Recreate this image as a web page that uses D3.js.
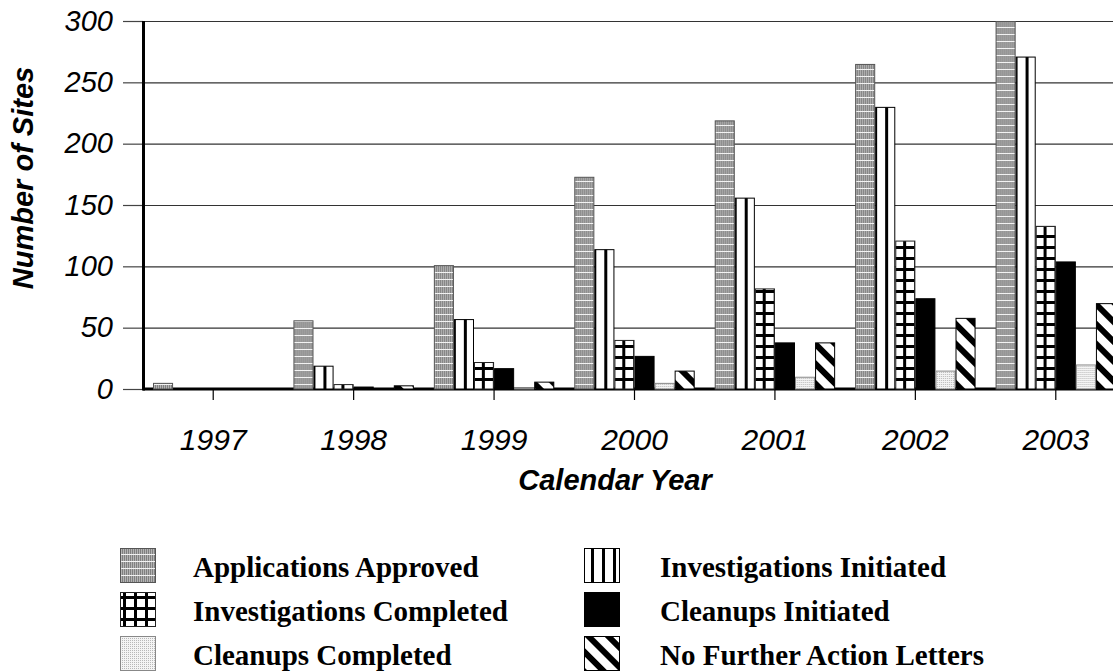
<!DOCTYPE html>
<html>
<head>
<meta charset="utf-8">
<script src="https://cdn.jsdelivr.net/npm/d3@7"></script>
<style>
  body { margin: 0; background: #fff; }
  svg { display: block; }
</style>
</head>
<body>
<svg id="chart" width="1113" height="672"></svg>
<script>
(function() {

    // data
    var years = ["1997", "1998", "1999", "2000", "2001", "2002", "2003"];
    var seriesNames = ["Applications Approved", "Investigations Initiated", "Investigations Completed",
                       "Cleanups Initiated", "Cleanups Completed", "No Further Action Letters"];
    var applicationsApproved    = [5, 56, 101, 173, 219, 265, 300];
    var investigationsInitiated = [0, 19, 57, 114, 156, 230, 271];
    var investigationsCompleted = [0, 4, 22, 40, 82, 121, 133];
    var cleanupsInitiated       = [0, 2, 17, 27, 38, 74, 104];
    var cleanupsCompleted       = [0, 0, 1, 5, 10, 15, 20];
    var noFurtherAction         = [0, 3, 6, 15, 38, 58, 70];
    var yTicks = [0, 50, 100, 150, 200, 250, 300];

    var seriesValues = [applicationsApproved, investigationsInitiated, investigationsCompleted,
                        cleanupsInitiated, cleanupsCompleted, noFurtherAction];
    var fills = ["url(#pApps)", "url(#pInvInit)", "url(#pInvComp)", "#000", "url(#pCleanComp)", "url(#pNfa)"];
    var strokes = ["#555", "#000", "#222", "#000", "#888", "#000"];

    var svg = d3.select("#chart"),
        width = +svg.attr("width"),
        left = 143, top = 21, bottom = 389;

    var x0 = d3.scaleBand().domain(years).range([143, 1126]);
    var x1 = d3.scaleBand().domain(seriesNames).range([10, x0.bandwidth() - 10]);
    var y = d3.scaleLinear().domain([0, 300]).range([bottom, top]);

    // patterns
    var defs = svg.append("defs");

    var pa = defs.append("pattern").attr("id", "pApps").attr("patternUnits", "userSpaceOnUse")
        .attr("width", 2).attr("height", 7);
    pa.append("rect").attr("width", 2).attr("height", 7).attr("fill", "#b4b4b4");
    pa.append("rect").attr("width", 1).attr("height", 7).attr("fill", "#808080");
    pa.append("rect").attr("y", 6).attr("width", 2).attr("height", 1).attr("fill", "#f2f2f2");

    var pi = defs.append("pattern").attr("id", "pInvInit").attr("patternUnits", "userSpaceOnUse")
        .attr("width", 11).attr("height", 10);
    pi.append("rect").attr("width", 11).attr("height", 10).attr("fill", "#fff");
    pi.append("rect").attr("x", 7).attr("width", 3).attr("height", 10).attr("fill", "#000");

    var pc = defs.append("pattern").attr("id", "pInvComp").attr("patternUnits", "userSpaceOnUse")
        .attr("width", 11).attr("height", 11);
    pc.append("rect").attr("width", 11).attr("height", 11).attr("fill", "#fff");
    pc.append("rect").attr("x", 3).attr("width", 3).attr("height", 11).attr("fill", "#000");
    pc.append("rect").attr("y", 4).attr("width", 11).attr("height", 3).attr("fill", "#000");

    var pl = defs.append("pattern").attr("id", "pCleanComp").attr("patternUnits", "userSpaceOnUse")
        .attr("width", 2).attr("height", 2);
    pl.append("rect").attr("width", 2).attr("height", 2).attr("fill", "#f4f4f4");
    pl.append("rect").attr("width", 1).attr("height", 1).attr("fill", "#b8b8b8");

    var pn = defs.append("pattern").attr("id", "pNfa").attr("patternUnits", "userSpaceOnUse")
        .attr("width", 14).attr("height", 14).attr("patternTransform", "rotate(-45)");
    pn.append("rect").attr("width", 14).attr("height", 14).attr("fill", "#fff");
    pn.append("rect").attr("width", 6).attr("height", 14).attr("fill", "#000");

    // gridlines
    svg.append("g").selectAll("line").data(yTicks.filter(function(d) { return d > 0; }))
        .enter().append("line")
        .attr("x1", left).attr("x2", width)
        .attr("y1", function(d) { return y(d) + 0.5; })
        .attr("y2", function(d) { return y(d) + 0.5; })
        .attr("stroke", "#333").attr("stroke-width", 1.2);

    // thick baseline behind the bars
    svg.append("line")
        .attr("x1", left).attr("x2", width)
        .attr("y1", y(0)).attr("y2", y(0))
        .attr("stroke", "#000").attr("stroke-width", 3);

    // bars
    var groups = svg.append("g").selectAll("g").data(years).enter().append("g")
        .attr("transform", function(d) { return "translate(" + x0(d) + ",0)"; });

    groups.selectAll("rect")
        .data(function(d, i) {
            return seriesNames.map(function(s, k) { return { s: s, k: k, v: seriesValues[k][i] }; });
        })
        .enter().filter(function(d) { return d.v > 0; }).append("rect")
        .attr("x", function(d) { return x1(d.s) + 0.5; })
        .attr("y", function(d) { return y(d.v) + 0.5; })
        .attr("width", x1.bandwidth() - 1)
        .attr("height", function(d) { return y(0) - y(d.v) - 0.5; })
        .attr("fill", function(d) { return fills[d.k]; })
        .attr("stroke", function(d) { return strokes[d.k]; })
        .attr("stroke-width", 1);

    // y axis
    var yAxis = svg.append("g")
        .attr("transform", "translate(" + left + ",0)")
        .call(d3.axisLeft(y).tickValues(yTicks).tickSize(20).tickPadding(10));
    yAxis.select(".domain").remove();
    yAxis.selectAll(".tick line").attr("stroke", "#444").attr("stroke-width", 1.2);
    yAxis.selectAll(".tick text")
        .attr("font-family", "'Liberation Sans', Arial, sans-serif")
        .attr("font-style", "italic")
        .attr("font-size", 29)
        .attr("fill", "#000");

    svg.append("line")
        .attr("x1", left + 0.5).attr("x2", left + 0.5)
        .attr("y1", top).attr("y2", bottom + 1.5)
        .attr("stroke", "#000").attr("stroke-width", 3);

    // x axis
    var xAxis = svg.append("g")
        .attr("transform", "translate(0," + (bottom + 1) + ")")
        .call(d3.axisBottom(x0).tickSize(10).tickPadding(29));
    xAxis.select(".domain").remove();
    xAxis.selectAll(".tick line").attr("stroke", "#000").attr("stroke-width", 1.2);
    xAxis.selectAll(".tick text")
        .attr("font-family", "'Liberation Sans', Arial, sans-serif")
        .attr("font-style", "italic")
        .attr("font-size", 30)
        .attr("fill", "#000");

    // axis titles
    svg.append("text")
        .attr("x", 615).attr("y", 490)
        .attr("text-anchor", "middle")
        .attr("font-family", "'Liberation Sans', Arial, sans-serif")
        .attr("font-style", "italic").attr("font-weight", "bold")
        .attr("font-size", 29)
        .text("Calendar Year");

    svg.append("text")
        .attr("transform", "translate(33,178) rotate(-90)")
        .attr("text-anchor", "middle")
        .attr("font-family", "'Liberation Sans', Arial, sans-serif")
        .attr("font-style", "italic").attr("font-weight", "bold")
        .attr("font-size", 29)
        .text("Number of Sites");

    // legend
    var legend = svg.append("g").selectAll("g").data(seriesNames).enter().append("g")
        .attr("transform", function(d, i) {
            return "translate(" + (i % 2 ? 584 : 120) + "," + (548 + Math.floor(i / 2) * 44) + ")";
        });
    legend.append("rect")
        .attr("x", 0.5).attr("y", 0.5)
        .attr("width", 35).attr("height", 34)
        .attr("fill", function(d, i) { return fills[i]; })
        .attr("stroke", function(d, i) { return strokes[i]; });
    legend.append("text")
        .attr("x", function(d, i) { return i % 2 ? 76 : 73; })
        .attr("y", 29)
        .attr("font-family", "'Liberation Serif', 'Times New Roman', serif")
        .attr("font-weight", "bold")
        .attr("font-size", 29)
        .text(function(d) { return d; });

})();
</script>
</body>
</html>
